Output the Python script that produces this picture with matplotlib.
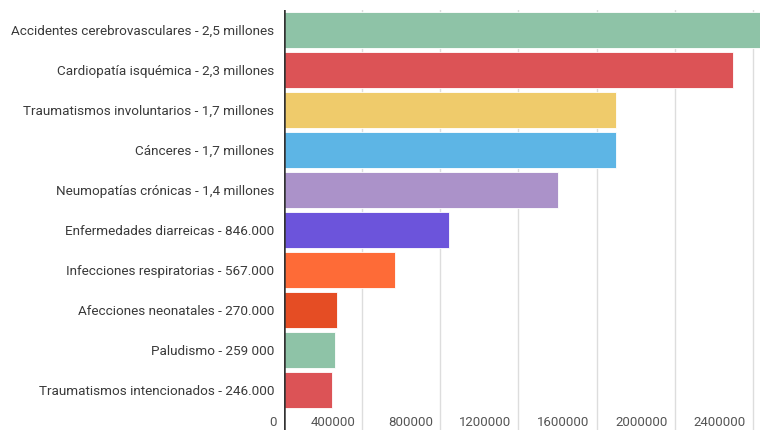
import matplotlib
matplotlib.use('Agg')
from matplotlib import pyplot as plt

categories = [
    'Accidentes cerebrovasculares - 2,5 millones',
    'Cardiopatía isquémica - 2,3 millones',
    'Traumatismos involuntarios - 1,7 millones',
    'Cánceres - 1,7 millones',
    'Neumopatías crónicas - 1,4 millones',
    'Enfermedades diarreicas - 846.000',
    'Infecciones respiratorias - 567.000',
    'Afecciones neonatales - 270.000',
    'Paludismo - 259 000',
    'Traumatismos intencionados - 246.000',
]
values = [2500000, 2300000, 1700000, 1700000, 1400000, 846000, 567000, 270000, 259000, 246000]
colors = ['#8ec3a7', '#dc5356', '#efcb6b', '#5db5e5', '#ab92c9',
          '#6c54db', '#fe6b37', '#e54d24', '#8ec3a7', '#dc5356']
xticks = [0, 400000, 800000, 1200000, 1600000, 2000000, 2400000]

plt.rcParams['font.family'] = ['Roboto', 'DejaVu Sans']

fig = plt.figure(figsize=(7.6, 4.3), dpi=100)
ax = fig.add_axes([284 / 760, 0, 1 - 284 / 760, 420 / 430])

y = list(range(len(values)))
ax.barh(y, values, height=0.88, color=colors, edgecolor='white', linewidth=0.6, zorder=2)

ax.set_xlim(0, 2436000)
ax.set_ylim(10, -0.5)

for t in xticks[1:]:
    ax.axvline(t, color='#dddddd', linewidth=1, zorder=1)
ax.axvline(0, color='#333333', linewidth=1.8, zorder=3)

for t in xticks:
    ax.annotate(str(t), xy=(t, 9.8), xytext=(-5, 0), textcoords='offset points',
                ha='right', va='center', fontsize=9.5, color='#555555',
                annotation_clip=False)

ax.set_yticks(y)
ax.set_yticklabels(categories, fontsize=9.7, color='#3a3a3a')
ax.tick_params(axis='y', length=0, pad=7)
ax.set_xticks([])
for s in ax.spines.values():
    s.set_visible(False)

fig.savefig('out.png', dpi=100)
